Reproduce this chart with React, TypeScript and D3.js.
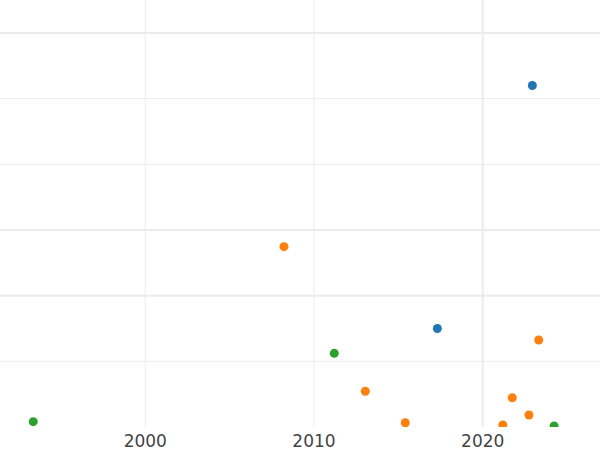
import React from "react";
import * as d3 from "d3";

const blueYears = [2022.94, 2017.31];
const blueValues = [5.2, 1.5];
const orangeYears = [2008.22, 2023.32, 2013.04, 2015.41, 2021.75, 2022.74, 2021.19];
const orangeValues = [2.746, 1.325, 0.544, 0.065, 0.446, 0.183, 0.03];
const greenYears = [1993.36, 2011.2, 2024.23];
const greenValues = [0.081, 1.122, 0.015];

const xTicks = [2000, 2010, 2020];
const xMajor = [2020];
const yTicks = [1, 2, 3, 4, 5, 6];
const yMajor = [2, 3, 6];

const series = [
  { name: "blue", years: blueYears, values: blueValues, color: "#1f77b4" },
  { name: "orange", years: orangeYears, values: orangeValues, color: "#ff7f0e" },
  { name: "green", years: greenYears, values: greenValues, color: "#2ca02c" },
];

export default function App() {
  const W = 600;
  const H = 450;
  const plotBottom = 427;
  const x = d3.scaleLinear().domain([1991.39, 2026.95]).range([0, W]);
  const y = d3.scaleLinear().domain([0, 6.502]).range([plotBottom, 0]);

  return (
    <svg
      width={W}
      height={H}
      style={{ position: "absolute", left: 0, top: 0, background: "#fff" }}
    >
      <defs>
        <clipPath id="plotclip">
          <rect x={0} y={0} width={W} height={plotBottom} />
        </clipPath>
      </defs>
      <g clipPath="url(#plotclip)">
        {yTicks.map((t) => (
          <line
            key={"y" + t}
            x1={0}
            x2={W}
            y1={y(t)}
            y2={y(t)}
            stroke="#ebebeb"
            strokeWidth={yMajor.includes(t) ? 2 : 1}
          />
        ))}
        {xTicks.map((t) => (
          <line
            key={"x" + t}
            x1={x(t)}
            x2={x(t)}
            y1={0}
            y2={plotBottom}
            stroke="#ebebeb"
            strokeWidth={xMajor.includes(t) ? 2 : 1}
          />
        ))}
        {series.map((s) =>
          s.years.map((yr, i) => (
            <circle
              key={s.name + i}
              cx={x(yr)}
              cy={y(s.values[i])}
              r={4.5}
              fill={s.color}
            />
          ))
        )}
      </g>
      {xTicks.map((t) => (
        <text
          key={"l" + t}
          x={x(t)}
          y={447}
          textAnchor="middle"
          fontFamily="DejaVu Sans"
          fontSize={17}
          fill="#444"
        >
          {t}
        </text>
      ))}
    </svg>
  );
}
